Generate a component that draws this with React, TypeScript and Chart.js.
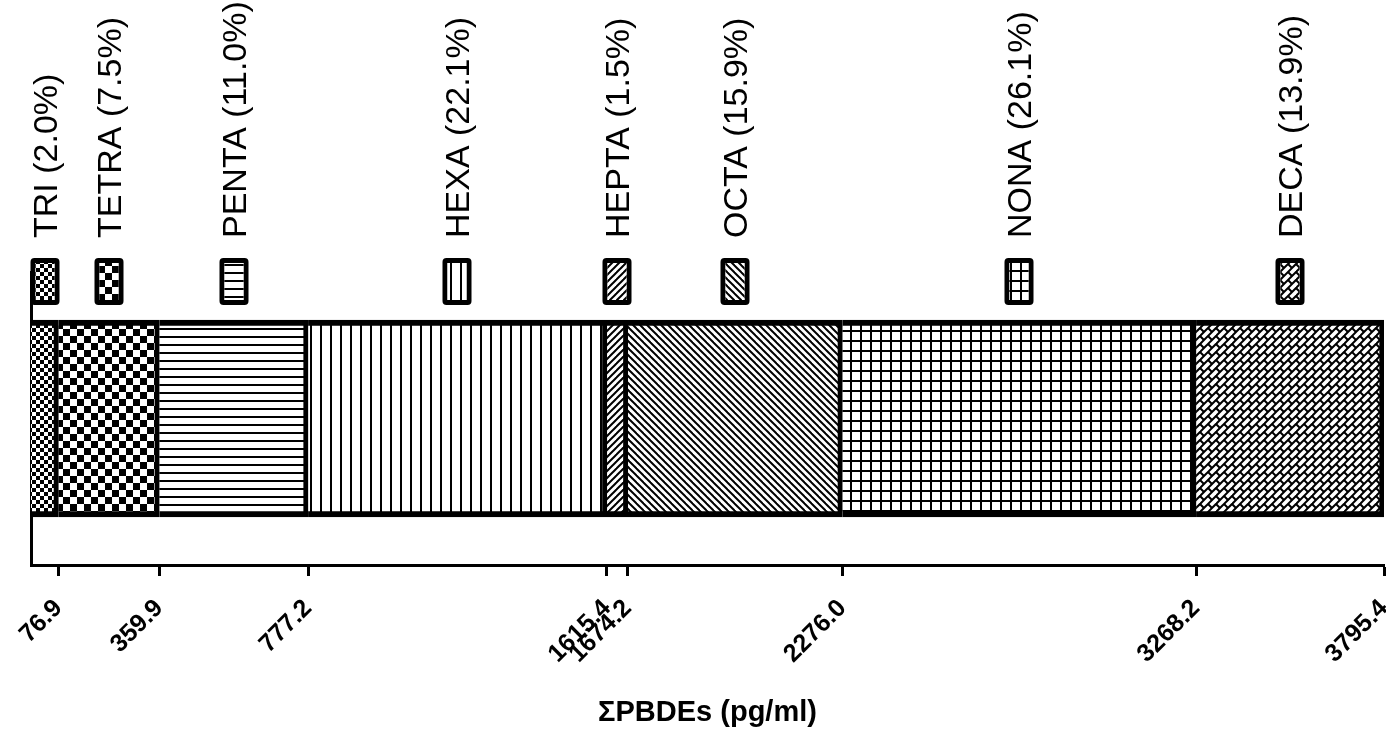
import React, { useEffect, useRef } from "react";
import { Chart, registerables } from "chart.js";

Chart.register(...registerables);

// ---- data ----
const groups = ["TRI", "TETRA", "PENTA", "HEXA", "HEPTA", "OCTA", "NONA", "DECA"];
const percents = [2.0, 7.5, 11.0, 22.1, 1.5, 15.9, 26.1, 13.9];
const values = [76.9, 283.0, 417.3, 838.2, 58.8, 601.8, 992.2, 527.2];
const xTickValues = [76.9, 359.9, 777.2, 1615.4, 1674.2, 2276.0, 3268.2, 3795.4];
const xMax = 3795.4;
const axisTitle = "\u03A3PBDEs (pg/ml)";

const FONT = "'Liberation Sans', Arial, Helvetica, sans-serif";

function tile(w: number, h: number, draw: (g: CanvasRenderingContext2D, w: number, h: number) => void) {
  const c = document.createElement("canvas");
  c.width = w;
  c.height = h;
  const g = c.getContext("2d")!;
  g.fillStyle = "#fff";
  g.fillRect(0, 0, w, h);
  g.fillStyle = "#000";
  g.strokeStyle = "#000";
  draw(g, w, h);
  return g.createPattern(c, "repeat")!;
}

function makePatterns() {
  const checker = (n: number) =>
    tile(2 * n, 2 * n, (g) => {
      g.fillRect(0, 0, n, n);
      g.fillRect(n, n, n, n);
    });
  const hlines = tile(8, 8, (g) => g.fillRect(0, 0, 8, 2));
  const vlines = tile(10, 10, (g) => g.fillRect(0, 0, 2, 10));
  const diagUp = (T: number) =>
    tile(T, T, (g) => {
      g.lineWidth = 2;
      for (const c of [0, T, 2 * T]) {
        g.beginPath();
        g.moveTo(c + T, -T);
        g.lineTo(c - 2 * T, 2 * T);
        g.stroke();
      }
    });
  const diagDown = (T: number) =>
    tile(T, T, (g) => {
      g.lineWidth = 2;
      for (const c of [-T, 0, T]) {
        g.beginPath();
        g.moveTo(c - T, -T);
        g.lineTo(c + 2 * T, 2 * T);
        g.stroke();
      }
    });
  const grid = tile(10, 10, (g) => {
    g.fillRect(0, 0, 10, 2);
    g.fillRect(0, 0, 2, 10);
  });
  const brick = tile(16, 16, (g) => {
    g.lineWidth = 2;
    for (let c = -32; c <= 48; c += 8) {
      g.beginPath();
      g.moveTo(c + 20, -20);
      g.lineTo(c - 20, 20);
      g.stroke();
    }
    for (let k = -4; k <= 6; k++) {
      const c = 8 * k;
      const off = ((k % 2) + 2) % 2 === 0 ? 0 : 8;
      for (let d = -48 + off; d <= 48; d += 16) {
        g.beginPath();
        g.moveTo((c + d) / 2, (c - d) / 2);
        g.lineTo((c + 8 + d) / 2, (c + 8 - d) / 2);
        g.stroke();
      }
    }
  });
  return [checker(4), checker(7), hlines, vlines, diagUp(7), diagDown(7), grid, brick];
}

export default function App() {
  const ref = useRef<HTMLCanvasElement | null>(null);

  useEffect(() => {
    if (!ref.current) return;
    const patterns = makePatterns();

    const legendPlugin = {
      id: "segLegend",
      afterDraw(chart: any) {
        const ctx: CanvasRenderingContext2D = chart.ctx;
        const xs = chart.scales.x;
        let acc = 0;
        groups.forEach((name, i) => {
          const cx = Math.round(xs.getPixelForValue(acc + values[i] / 2));
          acc += values[i];
          // box
          const bw = 29, bh = 47, top = 258;
          ctx.save();
          ctx.fillStyle = "#000";
          ctx.beginPath();
          (ctx as any).roundRect(cx - bw / 2, top, bw, bh, 4);
          ctx.fill();
          ctx.fillStyle = "#fff";
          ctx.fillRect(cx - bw / 2 + 5, top + 5, bw - 10, bh - 10);
          ctx.fillStyle = patterns[i];
          ctx.fillRect(cx - bw / 2 + 5, top + 5, bw - 10, bh - 10);
          ctx.restore();
          // label
          ctx.save();
          ctx.translate(cx + 12, 238);
          ctx.rotate(-Math.PI / 2);
          ctx.fillStyle = "#000";
          ctx.font = `34px ${FONT}`;
          ctx.textAlign = "left";
          ctx.textBaseline = "alphabetic";
          ctx.fillText(`${name} (${percents[i].toFixed(1)}%)`, 0, 0);
          ctx.restore();
        });
      },
    };

    const chart = new Chart(ref.current, {
      type: "bar",
      data: {
        labels: [""],
        datasets: groups.map((name, i) => ({
          label: name,
          data: [values[i]],
          backgroundColor: patterns[i] as any,
          borderColor: "#000",
          borderWidth: { top: 6, bottom: 6, right: 5, left: 5 },
          borderSkipped: "start",
          barThickness: 197,
        })),
      },
      options: {
        indexAxis: "y",
        animation: false,
        responsive: true,
        maintainAspectRatio: false,
        layout: { padding: { top: 272, right: 2, left: 0, bottom: 0 } },
        plugins: {
          legend: { display: false },
          tooltip: { enabled: false },
          title: { display: false },
        },
        scales: {
          x: {
            type: "linear",
            stacked: true,
            min: 0,
            max: xMax,
            afterBuildTicks: (scale: any) => {
              scale.ticks = xTickValues.map((v) => ({ value: v }));
            },
            afterFit: (scale: any) => {
              scale.height = 181;
              scale.paddingLeft = 0;
              scale.paddingRight = 0;
            },
            ticks: {
              autoSkip: false,
              maxRotation: 45,
              minRotation: 45,
              padding: 23,
              color: "#000",
              font: { family: FONT, size: 25, weight: "bold", lineHeight: 0.6 },
              callback: (v: any) => Number(v).toFixed(1),
            },
            grid: {
              display: true,
              drawOnChartArea: false,
              drawTicks: true,
              tickLength: 11,
              tickWidth: 3,
              tickColor: "#000",
            },
            border: { display: true, width: 3, color: "#000" },
            title: {
              display: true,
              text: axisTitle,
              color: "#000",
              font: { family: FONT, size: 29, weight: "bold" },
              padding: { top: 4, bottom: 16 },
            },
          },
          y: {
            type: "category",
            stacked: true,
            afterFit: (scale: any) => {
              scale.width = 31;
              scale.paddingTop = 0;
              scale.paddingBottom = 0;
            },
            ticks: { display: false },
            grid: { display: false },
            border: { display: true, width: 3, color: "#000" },
          },
        },
      },
      plugins: [legendPlugin],
    });

    return () => chart.destroy();
  }, []);

  return (
    <div style={{ position: "fixed", left: 0, top: 0, width: 1386, height: 746, background: "#fff" }}>
      <canvas ref={ref} />
    </div>
  );
}
